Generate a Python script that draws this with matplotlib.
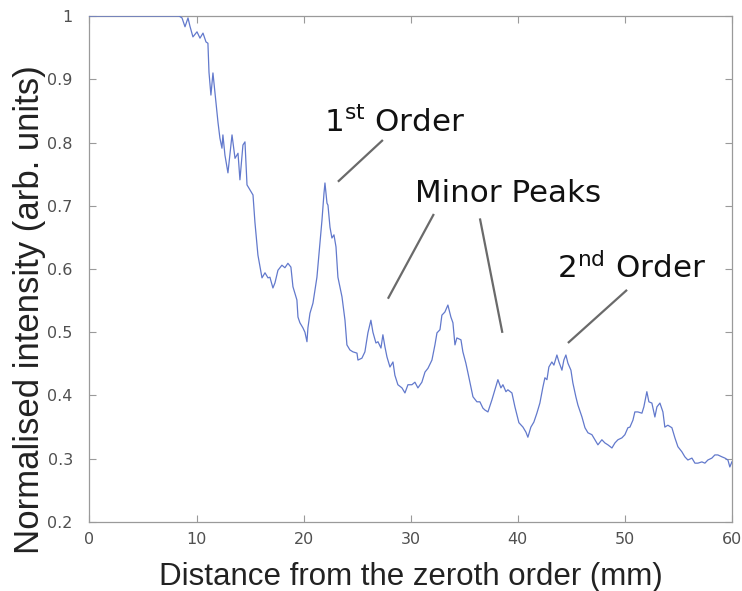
import matplotlib
matplotlib.use("Agg")
import matplotlib.pyplot as plt

# Distance from the zeroth order (mm)
distance_mm = [
    0.0, 8.36, 8.64, 8.92, 9.20, 9.38, 9.66, 10.04, 10.32, 10.60, 10.88, 11.06,
    11.16, 11.34, 11.53, 11.72, 12.00, 12.18, 12.37, 12.46, 12.65, 12.93, 13.31,
    13.59, 13.87, 14.05, 14.33, 14.52, 14.71, 14.99, 15.27, 15.45, 15.73, 16.11,
    16.39, 16.67, 16.85, 17.13, 17.32, 17.60, 17.97, 18.25, 18.53, 18.81, 19.00,
    19.37, 19.47, 19.65, 19.93, 20.12, 20.31, 20.40, 20.59, 20.87, 21.24, 21.52,
    21.71, 21.90, 21.99, 22.18, 22.27, 22.46, 22.64, 22.83, 23.02, 23.20, 23.58,
    23.86, 24.04, 24.32, 24.60, 24.98, 25.07, 25.44, 25.72, 26.00, 26.28, 26.47,
    26.75, 26.94, 27.22, 27.40, 27.59, 27.78, 28.06, 28.34, 28.52, 28.80, 29.18,
    29.46, 29.74, 30.11, 30.39, 30.67, 31.04, 31.33, 31.61, 31.98, 32.26, 32.45,
    32.73, 32.91, 33.19, 33.47, 33.75, 33.94, 34.13, 34.31, 34.69, 34.87, 35.15,
    35.34, 35.62, 35.81, 36.18, 36.46, 36.74, 36.93, 37.21, 37.58, 37.86, 38.14,
    38.42, 38.61, 38.89, 39.07, 39.45, 39.73, 40.10, 40.48, 40.76, 40.94, 41.22,
    41.50, 41.78, 42.06, 42.34, 42.53, 42.72, 42.90, 43.18, 43.37, 43.65, 43.84,
    44.12, 44.30, 44.49, 44.68, 44.96, 45.14, 45.42, 45.61, 45.99, 46.27, 46.55,
    46.92, 47.20, 47.48, 47.85, 48.13, 48.41, 48.79, 49.07, 49.35, 49.72, 50.00,
    50.28, 50.47, 50.75, 50.93, 51.21, 51.59, 51.77, 52.05, 52.24, 52.52, 52.80,
    52.99, 53.27, 53.55, 53.73, 54.01, 54.39, 54.67, 54.95, 55.32, 55.60, 55.88,
    56.26, 56.54, 56.82, 57.19, 57.47, 57.75, 58.12, 58.40, 58.68, 59.06, 59.34,
    59.62, 59.80, 59.99,
]

# Normalised intensity (arb. units)
intensity = [
    1.0, 1.0, 0.997, 0.983, 0.997, 0.984, 0.967, 0.975, 0.965, 0.973, 0.959, 0.957,
    0.911, 0.875, 0.910, 0.878, 0.832, 0.807, 0.791, 0.812, 0.780, 0.752, 0.812,
    0.775, 0.783, 0.741, 0.796, 0.801, 0.733, 0.725, 0.717, 0.674, 0.622, 0.586,
    0.594, 0.586, 0.587, 0.570, 0.578, 0.598, 0.606, 0.602, 0.609, 0.603, 0.572,
    0.551, 0.524, 0.515, 0.507, 0.500, 0.485, 0.507, 0.530, 0.546, 0.587, 0.641,
    0.677, 0.720, 0.736, 0.704, 0.701, 0.666, 0.649, 0.654, 0.635, 0.587, 0.556,
    0.519, 0.480, 0.472, 0.469, 0.467, 0.456, 0.459, 0.469, 0.499, 0.519, 0.500,
    0.483, 0.485, 0.475, 0.496, 0.477, 0.461, 0.445, 0.453, 0.432, 0.417, 0.412,
    0.404, 0.417, 0.417, 0.421, 0.412, 0.421, 0.437, 0.443, 0.456, 0.480, 0.499,
    0.504, 0.527, 0.532, 0.543, 0.524, 0.515, 0.480, 0.491, 0.488, 0.469, 0.451,
    0.436, 0.413, 0.398, 0.390, 0.390, 0.380, 0.377, 0.374, 0.393, 0.409, 0.425,
    0.412, 0.417, 0.406, 0.409, 0.404, 0.382, 0.357, 0.350, 0.342, 0.334, 0.350,
    0.358, 0.372, 0.388, 0.413, 0.428, 0.425, 0.445, 0.453, 0.448, 0.464, 0.453,
    0.440, 0.456, 0.464, 0.451, 0.440, 0.420, 0.398, 0.385, 0.366, 0.349, 0.341,
    0.338, 0.330, 0.322, 0.330, 0.325, 0.322, 0.317, 0.325, 0.330, 0.333, 0.338,
    0.349, 0.350, 0.361, 0.374, 0.374, 0.372, 0.382, 0.406, 0.390, 0.388, 0.366,
    0.382, 0.388, 0.374, 0.350, 0.353, 0.349, 0.333, 0.319, 0.311, 0.303, 0.298,
    0.301, 0.293, 0.293, 0.295, 0.293, 0.298, 0.301, 0.306, 0.306, 0.303, 0.301,
    0.298, 0.287, 0.295,
]

x_ticks = [0, 10, 20, 30, 40, 50, 60]
y_ticks = [0.2, 0.3, 0.4, 0.5, 0.6, 0.7, 0.8, 0.9, 1.0]
y_tick_labels = ["0.2", "0.3", "0.4", "0.5", "0.6", "0.7", "0.8", "0.9", "1"]

annotation_texts = [r"1$^{\mathrm{st}}$ Order", "Minor Peaks", r"2$^{\mathrm{nd}}$ Order"]
annotation_text_pos = [(28.52, 0.8166), (39.07, 0.706), (50.65, 0.586)]
annotation_lines = [
    [((27.40, 0.804), (23.20, 0.738))],
    [((32.16, 0.687), (27.87, 0.553)), ((36.46, 0.680), (38.56, 0.499))],
    [((50.20, 0.567), (44.68, 0.483))],
]

plt.rcParams["mathtext.fontset"] = "dejavusans"

fig = plt.figure(figsize=(7.42, 5.91), dpi=100)
ax = fig.add_axes([0.1206, 0.1168, 0.8659, 0.8561])

ax.plot(distance_mm, intensity, color="#6279cc", lw=0.9, zorder=3)

ax.set_xlim(0, 60)
ax.set_ylim(0.2, 1.0)
ax.set_xticks(x_ticks)
ax.set_yticks(y_ticks)
ax.set_yticklabels(y_tick_labels)

for sp in ax.spines.values():
    sp.set_color("#9a9a9a")
    sp.set_linewidth(0.9)
ax.tick_params(direction="in", top=True, right=True, length=5, width=0.8,
               color="#9a9a9a", labelsize=11.5, labelcolor="#505050")
ax.tick_params(axis="y", pad=12)
ax.tick_params(axis="x", pad=7)
for lab in ax.get_xticklabels() + ax.get_yticklabels():
    lab.set_family("DejaVu Sans")

ax.set_xlabel("Distance from the zeroth order (mm)", family="Liberation Sans",
              fontsize=22.5, color="#222222", labelpad=11)
ax.set_ylabel("Normalised intensity (arb. units)", family="Liberation Sans",
              fontsize=25, color="#222222")
ax.yaxis.set_label_coords(-0.068, 0.42)

for txt, (tx, ty), segs in zip(annotation_texts, annotation_text_pos, annotation_lines):
    ax.text(tx, ty, txt, ha="center", va="baseline", fontsize=22.3,
            family="DejaVu Sans", color="#111111")
    for (x0, y0), (x1, y1) in segs:
        ax.plot([x0, x1], [y0, y1], color="#6a6a6a", lw=1.6, solid_capstyle="butt")

fig.savefig("out.png", dpi=100)
